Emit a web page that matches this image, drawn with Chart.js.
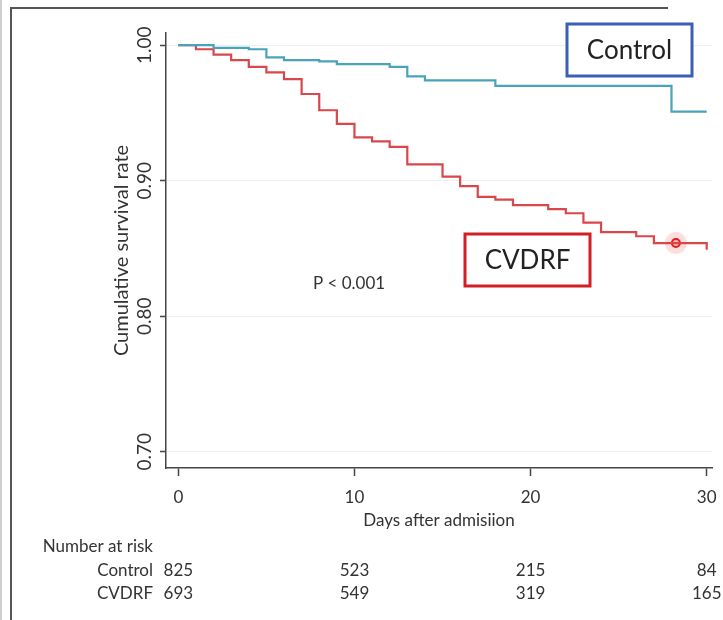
<!DOCTYPE html>
<html>
<head>
<meta charset="utf-8">
<script src="https://cdn.jsdelivr.net/npm/chart.js@4.4.1/dist/chart.umd.min.js"></script>
<style>
  html, body { margin: 0; padding: 0; background: #ffffff; }
  #wrap { position: relative; width: 723px; height: 620px; }
  canvas { display: block; }
</style>
</head>
<body>
<div id="wrap"><canvas id="c" width="723" height="620"></canvas></div>
<script>
// ---- data ----
const controlDays = [0, 2, 4, 5, 6, 8, 9, 12, 13, 14, 18, 28, 30];
const controlSurv = [1.000, 0.998, 0.997, 0.991, 0.989, 0.988, 0.986, 0.984, 0.977, 0.974, 0.970, 0.951, 0.951];

const cvdrfDays = [0, 1, 2, 3, 4, 5, 6, 7, 8, 9, 10, 11, 12, 13, 15, 16, 17, 18, 19, 21, 22, 23, 24, 26, 27, 30];
const cvdrfSurv = [1.000, 0.997, 0.993, 0.989, 0.984, 0.980, 0.975, 0.964, 0.952, 0.942, 0.932, 0.929, 0.925, 0.912,
                   0.903, 0.896, 0.888, 0.886, 0.882, 0.879, 0.876, 0.869, 0.862, 0.859, 0.854, 0.849];

const markerDays = [28.25];
const markerSurv = [0.854];

const xTicks = [0, 10, 20, 30];
const yTicks = [0.70, 0.80, 0.90, 1.00];

const riskDays = [0, 10, 20, 30];
const riskGroups = ["Control", "CVDRF"];
const controlRisk = [825, 523, 215, 84];
const cvdrfRisk = [693, 549, 319, 165];

const xTitle = "Days after admisiion";
const yTitle = "Cumulative survival rate";
const pText = "P < 0.001";
const riskTitle = "Number at risk";

// ---- styling ----
const FONT = "Lato, 'Open Sans', sans-serif";
const BLUE = "#4aa3bb";
const RED = "#d9474b";
const AXIS = "#444444";
const TEXT = "#333333";

function pts(xs, ys) { return xs.map((x, i) => ({ x: x, y: ys[i] })); }

const decorPlugin = {
  id: 'decor',
  beforeDraw(chart) {
    const ctx = chart.ctx;
    ctx.save();
    ctx.fillStyle = '#ffffff';
    ctx.fillRect(0, 0, chart.width, chart.height);
    ctx.strokeStyle = '#cfcfcf';
    ctx.lineWidth = 2;
    ctx.beginPath(); ctx.moveTo(1, 0); ctx.lineTo(1, 620); ctx.stroke();
    ctx.strokeStyle = '#555555';
    ctx.lineWidth = 2;
    ctx.beginPath();
    ctx.moveTo(11, 620); ctx.lineTo(11, 8); ctx.lineTo(668, 8);
    ctx.stroke();
    ctx.restore();
  },
  afterDraw(chart) {
    const ctx = chart.ctx;
    const xs = chart.scales.x;
    ctx.save();
    ctx.fillStyle = TEXT;
    ctx.font = "17px " + FONT;
    ctx.textAlign = 'center';
    ctx.textBaseline = 'middle';
    ctx.fillText(pText, 349, 284);

    function box(x0, y0, x1, y1, col, label) {
      ctx.strokeStyle = col;
      ctx.lineWidth = 3;
      ctx.fillStyle = '#ffffff';
      ctx.fillRect(x0, y0, x1 - x0, y1 - y0);
      ctx.strokeRect(x0, y0, x1 - x0, y1 - y0);
      ctx.fillStyle = '#222222';
      ctx.font = "26px " + FONT;
      ctx.textAlign = 'center';
      ctx.textBaseline = 'middle';
      ctx.fillText(label, (x0 + x1) / 2, (y0 + y1) / 2 + 1);
    }
    box(567, 24, 692, 76, '#3b5fb5', 'Control');
    box(465, 234, 590, 286, '#d41f22', 'CVDRF');

    ctx.fillStyle = TEXT;
    ctx.font = "17px " + FONT;
    ctx.textBaseline = 'middle';
    ctx.textAlign = 'right';
    ctx.fillText(riskTitle, 153, 547);
    const rows = [controlRisk, cvdrfRisk];
    const rowY = [571, 594];
    rows.forEach((vals, r) => {
      ctx.textAlign = 'right';
      ctx.fillText(riskGroups[r], 153, rowY[r]);
      ctx.textAlign = 'center';
      vals.forEach((v, i) => {
        ctx.fillText(String(v), xs.getPixelForValue(riskDays[i]), rowY[r]);
      });
    });
    ctx.restore();
  }
};

new Chart(document.getElementById('c'), {
  type: 'line',
  data: {
    datasets: [
      {
        label: 'Control',
        data: pts(controlDays, controlSurv),
        borderColor: BLUE, borderWidth: 2.2, stepped: 'before',
        pointRadius: 0, fill: false
      },
      {
        label: 'CVDRF',
        data: pts(cvdrfDays, cvdrfSurv),
        borderColor: RED, borderWidth: 2.2, stepped: 'before',
        pointRadius: 0, fill: false
      },
      {
        label: 'glow',
        data: pts(markerDays, markerSurv),
        showLine: false, pointRadius: 11, pointBorderWidth: 0,
        pointBackgroundColor: 'rgba(255,70,70,0.18)', pointBorderColor: 'rgba(0,0,0,0)'
      },
      {
        label: 'marker',
        data: pts(markerDays, markerSurv),
        showLine: false, pointRadius: 4, pointBorderWidth: 2,
        pointBackgroundColor: '#ffd0d0', pointBorderColor: '#e01010'
      }
    ]
  },
  options: {
    responsive: false,
    animation: false,
    devicePixelRatio: 1,
    layout: { padding: { left: 0, right: 10, top: 33, bottom: 0 } },
    plugins: { legend: { display: false }, tooltip: { enabled: false } },
    scales: {
      x: {
        type: 'linear',
        min: -0.7, max: 30.3,
        afterBuildTicks(s) { s.ticks = xTicks.map(v => ({ value: v })); },
        afterFit(s) { s.height = 152; s.paddingLeft = 0; s.paddingRight = 0; },
        grid: { drawOnChartArea: false, drawTicks: true, tickLength: 8, tickColor: AXIS, tickWidth: 1.5 },
        border: { display: true, color: AXIS, width: 1.5 },
        ticks: { color: TEXT, font: { family: FONT, size: 17 }, padding: 11, maxRotation: 0, autoSkip: false },
        title: { display: true, text: xTitle, color: TEXT, font: { family: FONT, size: 17 }, padding: { top: 4, bottom: 89 } }
      },
      y: {
        type: 'linear',
        min: 0.688, max: 1.009,
        afterBuildTicks(s) { s.ticks = yTicks.map(v => ({ value: v })); },
        afterFit(s) { s.width = 166; s.paddingTop = 0; s.paddingBottom = 0; },
        grid: { color: '#eeeeee', lineWidth: 1, drawTicks: true, tickLength: 6, tickColor: AXIS, tickWidth: 1.5 },
        border: { display: true, color: AXIS, width: 1.5 },
        ticks: {
          color: TEXT, font: { family: FONT, size: 19 }, padding: -4,
          minRotation: 90, maxRotation: 90, crossAlign: 'center', autoSkip: false,
          callback: v => Number(v).toFixed(2)
        },
        title: { display: true, text: yTitle, color: TEXT, font: { family: FONT, size: 20 }, padding: { top: 110, bottom: 0 } }
      }
    }
  },
  plugins: [decorPlugin]
});
</script>
</body>
</html>
